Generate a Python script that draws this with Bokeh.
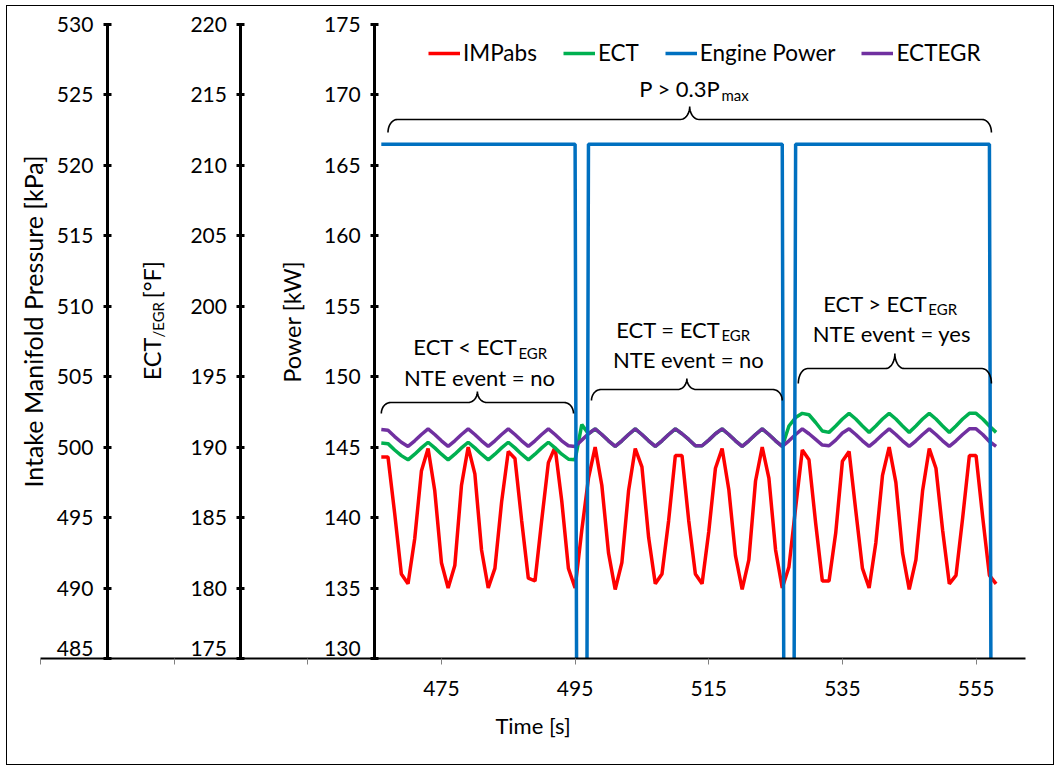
import numpy as np
from math import pi

from bokeh.plotting import figure
from bokeh.models import (Range1d, LinearAxis, FixedTicker, Label, Legend,
                          LegendItem, BoxAnnotation)
from bokeh.embed import file_html
from bokeh.resources import INLINE

# ---------------------------------------------------------------- data
time_s = list(range(466, 559))

imp_abs = [  # intake manifold pressure, kPa
    499.3, 499.3, 495.3, 491.0, 490.3, 493.5, 498.3, 499.9, 496.9, 491.8,
    490.0, 491.6, 497.3, 500.0, 498.1, 492.7, 490.0, 491.4, 496.1, 499.7,
    499.2, 494.8, 490.7, 490.5, 494.8, 498.9, 500.0, 496.2, 491.4, 490.0,
    494.1, 497.8, 500.0, 497.3, 492.5, 489.9, 491.8, 496.9, 499.9, 498.6,
    493.6, 490.3, 491.0, 494.8, 499.4, 499.4, 494.8, 491.0, 490.3, 494.0,
    498.5, 499.9, 497.0, 492.3, 489.9, 492.0, 497.6, 500.0, 497.8, 492.7,
    490.0, 491.5, 495.7, 499.8, 499.1, 494.6, 490.5, 490.5, 493.9, 499.0,
    499.7, 495.5, 491.4, 490.0, 493.2, 498.0, 500.0, 497.5, 492.5, 489.9,
    492.0, 496.9, 499.9, 498.5, 494.1, 490.3, 490.9, 495.0, 499.4, 499.4,
    495.0, 490.9, 490.3,
]

ect_egr = [  # EGR coolant temperature threshold, degF
    191.25, 191.2, 190.75, 190.35, 190.05, 190.45, 190.9, 191.3, 190.9, 190.45,
    190.05, 190.45, 190.9, 191.3, 190.9, 190.45, 190.05, 190.45, 190.9, 191.3,
    190.9, 190.45, 190.05, 190.45, 190.9, 191.3, 190.9, 190.45, 190.1, 190.05,
    190.5, 190.95, 191.3, 190.9, 190.45, 190.05, 190.45, 190.9, 191.3, 190.9,
    190.45, 190.05, 190.45, 190.9, 191.3, 190.95, 190.55, 190.1, 190.1, 190.5,
    190.95, 191.3, 190.9, 190.45, 190.05, 190.45, 190.9, 191.3, 190.9, 190.45,
    190.05, 190.45, 190.9, 191.3, 190.95, 190.55, 190.15, 190.1, 190.5, 191.0,
    191.3, 190.9, 190.45, 190.05, 190.45, 190.9, 191.3, 190.9, 190.45, 190.05,
    190.45, 190.9, 191.3, 190.9, 190.45, 190.05, 190.45, 190.9, 191.3, 191.3,
    190.9, 190.4, 190.05,
]

ect = [  # engine coolant temperature, degF
    190.3, 190.25, 189.8, 189.4, 189.1, 189.5, 189.95, 190.35, 189.95, 189.5,
    189.1, 189.5, 189.95, 190.35, 189.95, 189.5, 189.1, 189.5, 189.95, 190.35,
    189.95, 189.5, 189.1, 189.5, 189.95, 190.35, 189.95, 189.5, 189.15, 189.1,
    191.6,
    190.95, 191.3, 190.9, 190.45, 190.05, 190.45, 190.9, 191.3, 190.9, 190.45,
    190.05, 190.45, 190.9, 191.3, 190.95, 190.55, 190.1, 190.1, 190.5, 190.95,
    191.3, 190.9, 190.45, 190.05, 190.45, 190.9, 191.3, 190.9, 190.45, 190.05,
    191.5, 192.1, 192.4, 192.3, 191.75, 191.15, 191.05, 191.5, 192.0, 192.4,
    192.0, 191.5, 191.05, 191.5, 192.0, 192.4, 192.0, 191.5, 191.05, 191.5,
    192.0, 192.4, 192.0, 191.5, 191.05, 191.5, 192.0, 192.4, 192.4, 192.0,
    191.5, 191.05,
]

engine_power = (  # kW
    [166.5] * 30 + [0.0] +
    [166.5] * 30 + [0.0] +
    [166.5] * 30 + [0.0]
)

x_ticks = [415, 435, 455, 475, 495, 515, 535, 555]
x_tick_labels = ["", "", "", "475", "495", "515", "535", "555"]
imp_ticks = [485, 490, 495, 500, 505, 510, 515, 520, 525, 530]
ect_ticks = [175, 180, 185, 190, 195, 200, 205, 210, 215, 220]
power_ticks = [130, 135, 140, 145, 150, 155, 160, 165, 170, 175]

series_names = ["IMPabs", "ECT", "Engine Power", "ECTEGR"]

# ---------------------------------------------------------------- layout
FONT = "Lato"
RED, GREEN, BLUE, PURPLE = "#FF0000", "#00B050", "#0070C0", "#7030A0"

W, H = 1048, 760
# insets of the axis box inside the canvas, px
IN_L, IN_R, IN_T, IN_B = 33, 30, 18, 108
T0, T1 = 415, 562.4          # time axis extent, s
P0, P1 = 130, 175            # power axis extent, kW
IMP_SHIFT, ECT_SHIFT = 355, 45  # offsets of the other two value scales

kx = (W - IN_L - IN_R) / (T1 - T0)
ky = (H - IN_T - IN_B) / (P1 - P0)
y_lo, y_hi = P0 - IN_B / ky, P1 + IN_T / ky

p = figure(width=W, height=H, output_backend="svg", toolbar_location=None,
           x_range=Range1d(T0 - IN_L / kx, T1 + IN_R / kx),
           y_range=Range1d(y_lo, y_hi),
           x_axis_location=None, y_axis_location=None, min_border=0,
           outline_line_color=None,
           background_fill_color="white", border_fill_color="white")
p.styles = {"border": "1px solid #000000", "margin-left": "6px",
            "margin-top": "5px"}
p.xgrid.visible = False
p.ygrid.visible = False
p.extra_y_ranges = {
    "imp": Range1d(y_lo + IMP_SHIFT, y_hi + IMP_SHIFT),
    "ect": Range1d(y_lo + ECT_SHIFT, y_hi + ECT_SHIFT),
}

# time axis
xaxis = LinearAxis(ticker=FixedTicker(ticks=x_ticks), fixed_location=P0,
                   bounds=(T0, T1), level="overlay",
                   major_label_overrides=dict(zip(x_ticks, x_tick_labels)),
                   axis_label="Time [s]")
xaxis.axis_line_width = 2
xaxis.axis_line_color = "black"
xaxis.major_tick_in = 0
xaxis.major_tick_out = 6
xaxis.major_tick_line_color = "#808080"
xaxis.major_tick_line_width = 1
xaxis.minor_tick_line_color = None
xaxis.major_label_text_font = FONT
xaxis.major_label_text_font_size = "21px"
xaxis.major_label_text_color = "black"
xaxis.major_label_standoff = 16
xaxis.axis_label_text_font = FONT
xaxis.axis_label_text_font_size = "22px"
xaxis.axis_label_text_font_style = "normal"
xaxis.axis_label_text_color = "black"
xaxis.axis_label_standoff = 13
p.add_layout(xaxis, "below")

# three value axes drawn side by side in the left part of the chart
axis_specs = [
    ("imp", 425, imp_ticks),
    ("ect", 445, ect_ticks),
    ("default", 465, power_ticks),
]
for rng, loc, ticks in axis_specs:
    ax = LinearAxis(y_range_name=rng, fixed_location=loc,
                    bounds=(ticks[0], ticks[-1]), level="overlay",
                    ticker=FixedTicker(ticks=ticks),
                    major_label_overrides={ticks[0]: ""})
    ax.axis_line_width = 3
    ax.axis_line_color = "black"
    ax.major_tick_in = 4
    ax.major_tick_out = 4
    ax.major_tick_line_width = 3
    ax.major_tick_line_color = "black"
    ax.minor_tick_line_color = None
    ax.major_label_text_font = FONT
    ax.major_label_text_font_size = "21px"
    ax.major_label_text_color = "black"
    ax.major_label_standoff = 10
    p.add_layout(ax, "left")
    # lowest tick label sits just above the time axis
    p.add_layout(Label(x=loc, y=ticks[0], y_range_name=rng, text=str(ticks[0]),
                       text_align="right", text_baseline="alphabetic",
                       x_offset=-14, y_offset=10, text_font=FONT,
                       text_font_size="21px", text_color="black"))

# axis titles
def title(x, y, text, size="23.5px", align="center", dx=0):
    p.add_layout(Label(x=x, y=y, text=text, angle=pi / 2, text_align=align,
                       text_baseline="middle", x_offset=dx, text_font=FONT,
                       text_font_size=size, text_color="black"))

title(413.95, 153.92, "Intake Manifold Pressure [kPa]", size="25px")
title(431.7, 152.78, "ECT", align="right")
title(431.7, 152.78, "/EGR", size="15px", align="left", dx=6)
title(431.7, 155.55, " [°F]", align="left")
title(452.6, 153.9, "Power [kW]")

# ---------------------------------------------------------------- series
r_imp = p.line(time_s, imp_abs, y_range_name="imp", line_color=RED,
               line_width=3.5)
r_ect = p.line(time_s, ect, y_range_name="ect", line_color=GREEN,
               line_width=3.5)
r_egr = p.line(time_s, ect_egr, y_range_name="ect", line_color=PURPLE,
               line_width=3.5)
r_pow = p.line(time_s, engine_power, line_color=BLUE, line_width=3.5)

# nothing is drawn below the time axis except the axis itself
p.add_layout(BoxAnnotation(top=P0, fill_color="white", fill_alpha=1.0,
                           line_color=None, level="annotation"))

legend = Legend(items=[LegendItem(label=n, renderers=[r])
                       for n, r in zip(series_names,
                                       [r_imp, r_ect, r_pow, r_egr])],
                orientation="horizontal", location=(421, 700))
legend.border_line_color = None
legend.background_fill_alpha = 0
legend.padding = 0
legend.margin = 0
legend.spacing = 26
legend.glyph_width = 32
legend.glyph_height = 22
legend.label_standoff = 3
legend.label_text_font = FONT
legend.label_text_font_size = "22.5px"
legend.label_text_color = "black"
p.add_layout(legend)

# ---------------------------------------------------------------- braces
brace_left = [467.0, 466.0, 497.45, 528.4]
brace_right = [557.3, 494.76, 526.0, 557.3]
brace_base = [168.26, 148.17, 149.09, 150.58]
brace_height = [0.92, 0.78, 0.78, 1.06]
BRACE_R = 1.4  # horizontal radius of the curls, seconds


def brace(left, right, base, h, r=BRACE_R, n=12):
    mid = 0.5 * (left + right)
    th = np.linspace(0, pi / 2, n)
    # left hook, rising to the horizontal bar
    x1 = left + r - r * np.cos(th)
    y1 = base - h + h * np.sin(th)
    # curl up into the central tip
    x2 = mid - r + r * np.sin(th)
    y2 = base + h - h * np.cos(th)
    # mirrored right half
    x3 = mid + r - r * np.sin(th[::-1])
    y3 = y2[::-1]
    x4 = right - r + r * np.cos(th[::-1])
    y4 = y1[::-1]
    return (np.concatenate([x1, x2, x3, x4]).tolist(),
            np.concatenate([y1, y2, y3, y4]).tolist())


paths = [brace(*b) for b in zip(brace_left, brace_right, brace_base,
                                 brace_height)]
p.multi_line([q[0] for q in paths], [q[1] for q in paths],
             line_color="black", line_width=1.6)

# ---------------------------------------------------------------- notes
main_notes = [("P > 0.3P", "max", 516.74, 170.45),
              ("ECT < ECT", "EGR", 486.37, 152.11),
              ("ECT = ECT", "EGR", 516.74, 153.38),
              ("ECT > ECT", "EGR", 547.71, 155.23)]
for txt, sub, x, y in main_notes:
    p.add_layout(Label(x=x, y=y, text=txt, text_align="right",
                       text_baseline="alphabetic", text_font=FONT,
                       text_font_size="22px", text_color="black"))
    p.add_layout(Label(x=x, y=y, text=sub, text_align="left",
                       text_baseline="alphabetic", x_offset=1, y_offset=-6,
                       text_font=FONT, text_font_size="15px",
                       text_color="black"))

event_notes = [("NTE event = no", 480.68, 149.98),
               ("NTE event = no", 511.95, 151.25),
               ("NTE event = yes", 542.4, 153.10)]
for txt, x, y in event_notes:
    p.add_layout(Label(x=x, y=y, text=txt, text_align="center",
                       text_baseline="alphabetic", text_font=FONT,
                       text_font_size="22px", text_color="black"))

open("out.html", "w").write(file_html(p, INLINE))
